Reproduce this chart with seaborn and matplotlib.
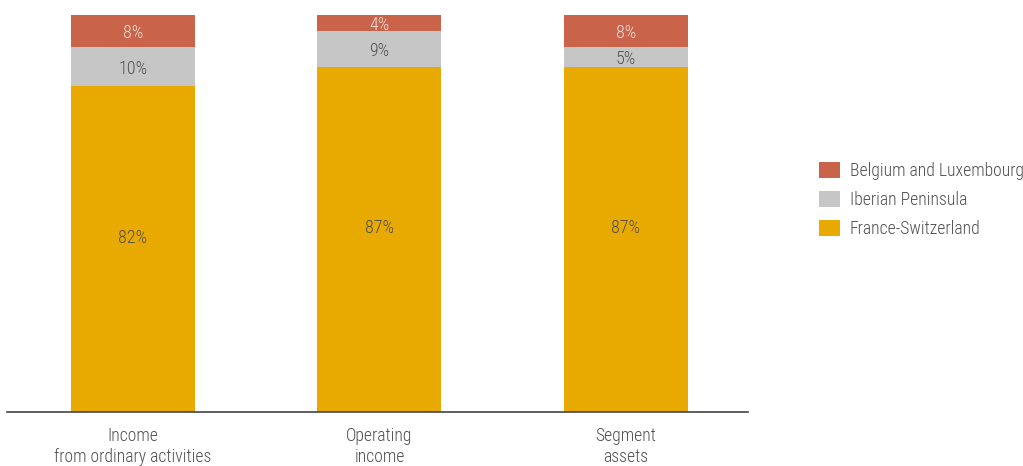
import matplotlib
matplotlib.use("Agg")
import matplotlib.pyplot as plt
from matplotlib.patches import Patch
import seaborn as sns
import numpy as np
import pandas as pd

categories = ["Income\nfrom ordinary activities", "Operating\nincome", "Segment\nassets"]
france = [82, 87, 87]
iberian = [10, 9, 5]
belgium = [8, 4, 8]

series_names = ["Belgium and Luxembourg", "Iberian Peninsula", "France-Switzerland"]
colors = {"Belgium and Luxembourg": "#C9644A",
          "Iberian Peninsula": "#C6C6C6",
          "France-Switzerland": "#E8A900"}
label_colors = {"Belgium and Luxembourg": "#F6E0D8",
                "Iberian Peninsula": "#505050",
                "France-Switzerland": "#505050"}

sns.set_theme(style="white")
plt.rcParams["font.family"] = ["Roboto Condensed", "Liberation Sans Narrow", "Archivo Narrow",
                               "Asap Condensed", "DejaVu Sans"]
plt.rcParams["font.weight"] = 300

fig = plt.figure(figsize=(10.23, 4.66), dpi=100)
ax = fig.add_axes([7/1023, 54/466, (748-7)/1023, (412-15)/466])

f = np.array(france, float)
i = np.array(iberian, float)
b = np.array(belgium, float)
tops = {"France-Switzerland": f,
        "Iberian Peninsula": f + i,
        "Belgium and Luxembourg": f + i + b}
bottoms = {"France-Switzerland": np.zeros(3),
           "Iberian Peninsula": f,
           "Belgium and Luxembourg": f + i}
vals = {"France-Switzerland": f, "Iberian Peninsula": i, "Belgium and Luxembourg": b}
label_shift = {"France-Switzerland": 2.8, "Iberian Peninsula": -0.6, "Belgium and Luxembourg": -0.5}

for name in series_names:  # draw tallest cumulative first
    df = pd.DataFrame({"cat": categories, "v": tops[name]})
    sns.barplot(data=df, x="cat", y="v", color=colors[name], width=0.503,
                saturation=1, ax=ax, edgecolor="none", linewidth=0)

for name in series_names:
    for k in range(3):
        y = bottoms[name][k] + vals[name][k] / 2 + label_shift[name]
        ax.text(k, y, f"{int(vals[name][k])}%", ha="center", va="center",
                fontsize=13, color=label_colors[name])

ax.set_ylim(0, 100)
ax.set_xlim(-0.511, 2.495)
ax.set_xlabel("")
ax.set_ylabel("")
ax.set_yticks([])
for s in ["top", "right", "left"]:
    ax.spines[s].set_visible(False)
ax.spines["bottom"].set_color("#444444")
ax.spines["bottom"].set_linewidth(1.2)
ax.tick_params(axis="x", length=0, pad=11, labelsize=12.7, labelcolor="#505050")
for t in ax.get_xticklabels():
    t.set_linespacing(1.22)

handles = [Patch(facecolor=colors[n], edgecolor="none") for n in series_names]
leg = fig.legend(handles, series_names, loc="upper left", bbox_to_anchor=(812/1023, 1 - 155/466),
                 frameon=False, fontsize=12.7, labelcolor="#505050",
                 handlelength=1.2, handleheight=1.0, handletextpad=0.55, labelspacing=0.62,
                 borderaxespad=0)

fig.savefig("out.png", dpi=100, facecolor="white")
